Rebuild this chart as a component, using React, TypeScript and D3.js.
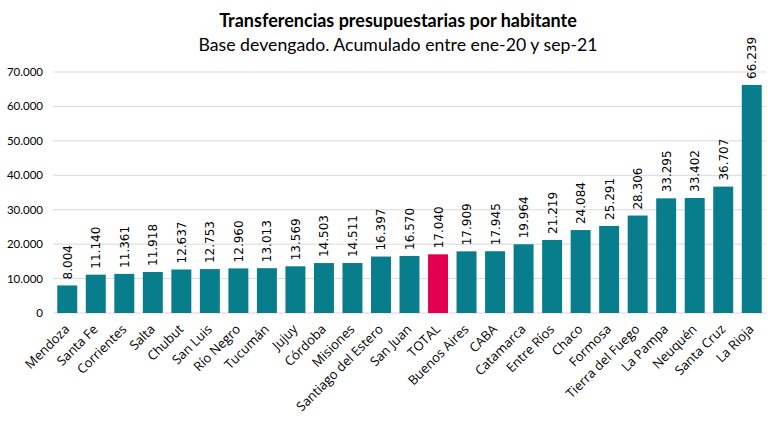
import React from "react";
import * as d3 from "d3";

const categories = ["Mendoza","Santa Fe","Corrientes","Salta","Chubut","San Luis","Río Negro","Tucumán","Jujuy","Córdoba","Misiones","Santiago del Estero","San Juan","TOTAL","Buenos Aires","CABA","Catamarca","Entre Ríos","Chaco","Formosa","Tierra del Fuego","La Pampa","Neuquén","Santa Cruz","La Rioja"];
const values = [8004,11140,11361,11918,12637,12753,12960,13013,13569,14503,14511,16397,16570,17040,17909,17945,19964,21219,24084,25291,28306,33295,33402,36707,66239];
const yTicks = [0,10000,20000,30000,40000,50000,60000,70000];

const W = 782, H = 426;
const margin = { left: 53, right: 16, top: 72, bottom: 113 };

const fmt = (v: number) => d3.format(",")(v).replace(/,/g, ".");

export default function App() {
  const x = d3.scaleBand<string>().domain(categories).range([margin.left, W - margin.right]).paddingInner(0.3).paddingOuter(0.15);
  const y = d3.scaleLinear().domain([0, 70000]).range([H - margin.bottom, margin.top]);
  return (
    <svg width={W} height={H} style={{ position: "absolute", left: 0, top: 0, background: "#fff" }}>
      <text x={398} y={27} textAnchor="middle" fontFamily="Lato, sans-serif" fontWeight="bold" fontSize={18} fill="#000">Transferencias presupuestarias por habitante</text>
      <text x={398} y={51} textAnchor="middle" fontFamily="Lato, sans-serif" fontSize={17.7} fill="#000">Base devengado. Acumulado entre ene-20 y sep-21</text>
      {yTicks.map(t => (
        <g key={t}>
          <line x1={margin.left} x2={W - margin.right} y1={y(t)} y2={y(t)} stroke={t === 0 ? "#e6cfd3" : "#d9d9d9"} strokeWidth={1} />
          <text x={43} y={y(t) + 4} textAnchor="end" fontFamily="Lato, sans-serif" fontSize={11.5} fill="#000">{t === 0 ? "0" : fmt(t)}</text>
        </g>
      ))}
      {categories.map((c, i) => {
        const cx = (x(c) as number) + x.bandwidth() / 2;
        return (
          <g key={c}>
            <rect x={x(c)} y={y(values[i])} width={x.bandwidth()} height={y(0) - y(values[i])} fill={c === "TOTAL" ? "#E2004F" : "#087D8B"} />
            <text transform={`translate(${cx + 4.5},${y(values[i]) - 6}) rotate(-90)`} fontFamily="'DejaVu Sans', sans-serif" fontSize={12} fill="#000">{fmt(values[i])}</text>
            <text transform={`translate(${cx + 3},${y(0) + 17}) rotate(-45)`} textAnchor="end" fontFamily="'Open Sans', sans-serif" fontSize={13} fill="#000">{c}</text>
          </g>
        );
      })}
    </svg>
  );
}
